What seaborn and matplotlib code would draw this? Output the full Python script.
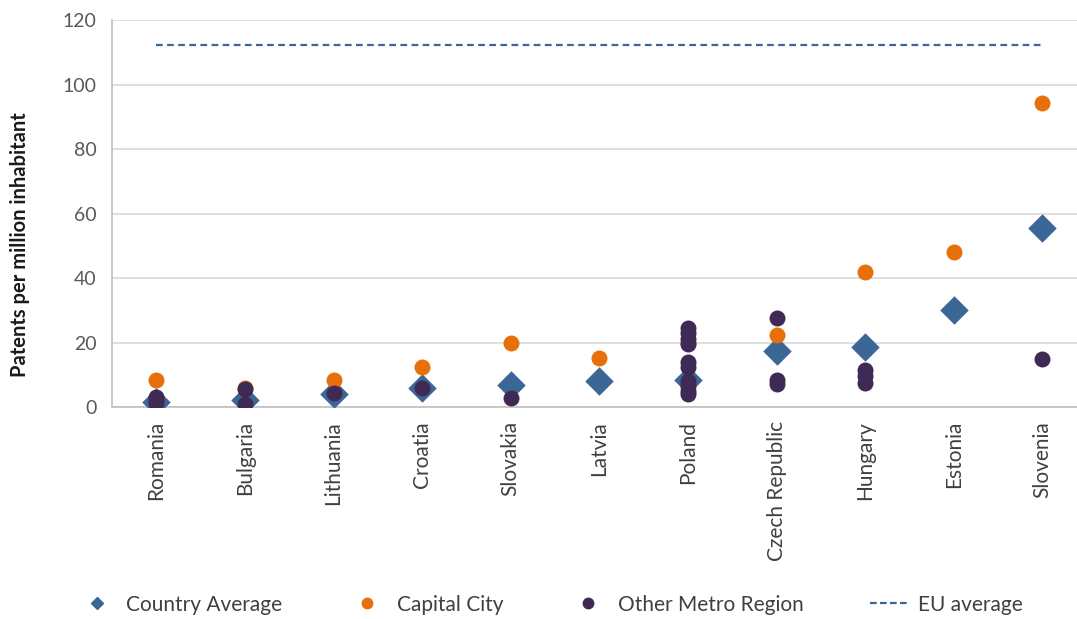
import numpy as np
import pandas as pd
import matplotlib
matplotlib.use("Agg")
import matplotlib.pyplot as plt
from matplotlib.lines import Line2D
import seaborn as sns

# ---- data ----
countries = ["Romania", "Bulgaria", "Lithuania", "Croatia", "Slovakia", "Latvia",
             "Poland", "Czech Republic", "Hungary", "Estonia", "Slovenia"]
country_avg = [1.5, 2.2, 4.0, 6.0, 6.8, 8.0, 8.4, 17.4, 18.7, 30.0, 55.5]
capital_city = [8.4, 5.9, 8.4, 12.5, 19.8, 15.2, 19.8, 22.3, 41.8, 48.0, 94.3]

metro_country = (["Romania"] * 3 + ["Bulgaria"] * 2 + ["Lithuania"] + ["Croatia"]
                 + ["Slovakia"] + ["Poland"] * 10 + ["Czech Republic"] * 3
                 + ["Hungary"] * 3 + ["Slovenia"])
metro_value = ([3.0, 2.2, 1.2] + [5.5, 1.0] + [4.2] + [6.0] + [2.9]
               + [24.5, 23.0, 21.0, 19.5, 14.0, 12.5, 8.0, 6.5, 5.0, 4.0]
               + [27.6, 8.4, 7.0] + [11.5, 9.5, 7.5] + [14.9])
eu_average = 112.2

blue = "#3A6796"
orange = "#E8700A"
purple = "#3F2A56"
grey_txt = "#595959"

sns.set_style("white")
plt.rcParams["font.family"] = ["Lato", "DejaVu Sans"]

avg_df = pd.DataFrame({"country": countries, "value": country_avg})
cap_df = pd.DataFrame({"country": countries, "value": capital_city})
metro_df = pd.DataFrame({"country": metro_country, "value": metro_value})

fig = plt.figure(figsize=(10.77, 6.19), dpi=100)
ax = fig.add_axes([0.104, 0.3425, 0.905, 0.625])

sns.stripplot(data=avg_df, x="country", y="value", order=countries, jitter=False,
              marker="D", size=14.5, color=blue, linewidth=0, ax=ax, zorder=3)
sns.stripplot(data=cap_df, x="country", y="value", order=countries, jitter=False,
              marker="o", size=11.5, color=orange, linewidth=0, ax=ax, zorder=4)
sns.stripplot(data=metro_df, x="country", y="value", order=countries, jitter=False,
              marker="o", size=11.5, color=purple, linewidth=0, ax=ax, zorder=5)
ax.plot(countries, [eu_average] * len(countries), color=blue, linestyle=(0, (3, 2)),
        linewidth=1.6, zorder=2)

ax.set_xlim(-0.5, len(countries) - 0.5)
ax.set_ylim(0, 120)
ax.set_yticks(range(0, 121, 20))
ax.yaxis.grid(True, color="#D9D9D9", linewidth=1.2)
ax.set_axisbelow(True)

for side in ["top", "right"]:
    ax.spines[side].set_visible(False)
for side in ["left", "bottom"]:
    ax.spines[side].set_color("#BFBFBF")
    ax.spines[side].set_linewidth(1.2)

ax.set_xticks(np.arange(-0.5, len(countries), 1.0), minor=True)
ax.tick_params(axis="x", which="major", length=0, pad=10, labelrotation=90,
               labelsize=15, labelcolor="#404040")
ax.tick_params(axis="x", which="minor", length=5, color="#BFBFBF", width=1.2)
ax.tick_params(axis="y", length=5, color="#BFBFBF", width=1.2, labelsize=14,
               labelcolor=grey_txt, pad=6)

ax.set_xlabel("")
ax.set_ylabel("Patents per million inhabitant", fontsize=14.5, fontweight="bold",
              color="#1a1a1a")
ax.yaxis.set_label_coords(-0.084, 0.42)

handles = [
    Line2D([], [], marker="D", color=blue, linestyle="none", markersize=6),
    Line2D([], [], marker="o", color=orange, linestyle="none", markersize=7.5),
    Line2D([], [], marker="o", color=purple, linestyle="none", markersize=7.5),
    Line2D([], [], color=blue, linestyle=(0, (3, 1.5)), linewidth=1.6),
]
labels = ["Country Average", "Capital City", "Other Metro Region", "EU average"]
fig.legend(handles, labels, loc="center", bbox_to_anchor=(0.511, 0.023), ncol=4,
           frameon=False, fontsize=15, handlelength=1.8, handletextpad=0.5,
           columnspacing=3.2, labelcolor="#404040")

fig.savefig("out.png", dpi=100)
